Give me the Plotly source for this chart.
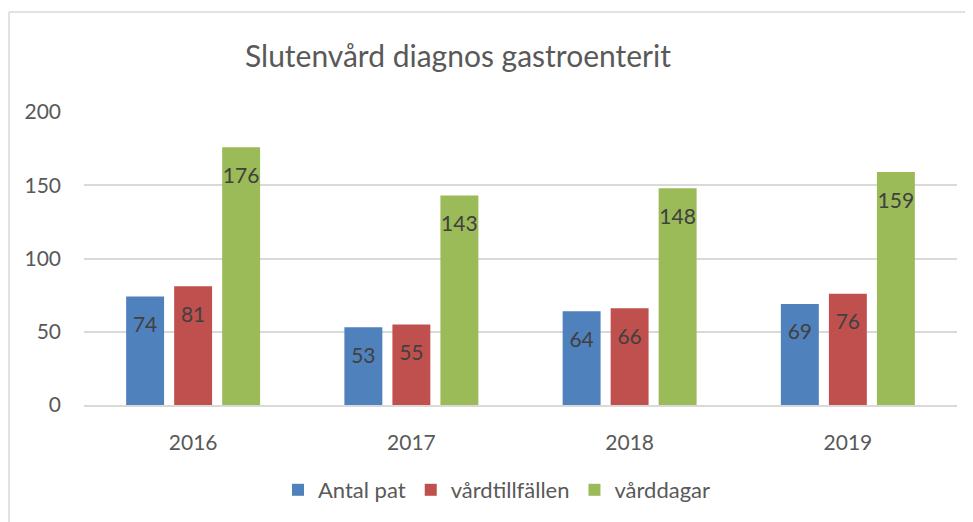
import plotly.graph_objects as go

years = ["2016", "2017", "2018", "2019"]
antal_pat = [74, 53, 64, 69]
vardtillfallen = [81, 55, 66, 76]
varddagar = [176, 143, 148, 159]
series_names = ["Antal pat", "vårdtillfällen", "vårddagar"]
series_values = [antal_pat, vardtillfallen, varddagar]
colors = ["#4f81bd", "#c0504d", "#9bbb59"]
y_ticks = [0, 50, 100, 150, 200]

FONT = "Lato, 'Open Sans', sans-serif"
OFF = 8  # page body margin
W, H = 973 - OFF, 522 - OFF
L, T = 84 - OFF, 112 - OFF
R = W - (957 - OFF)
B = H - (405 - OFF)

fig = go.Figure()
for i, (name, vals, col) in enumerate(zip(series_names, series_values, colors)):
    fig.add_trace(go.Bar(
        x=years, y=vals, name=name, marker=dict(color=col, line=dict(width=0)),
        offsetgroup=str(i), showlegend=True,
        hoverinfo="skip",
    ))
for i, (name, vals, col) in enumerate(zip(series_names, series_values, colors)):
    fig.add_trace(go.Scatter(
        x=years, y=vals, mode="markers+text", text=[str(v) for v in vals],
        textposition="bottom center", offsetgroup=str(i),
        marker=dict(size=30, opacity=0, color=col),
        textfont=dict(family=FONT, size=21, color="#404040"),
        showlegend=False, hoverinfo="skip",
    ))

pw = W - L - R
ph = H - T - B
def px_x(x):
    return (x - OFF - L) / pw
def px_y(y):
    return (T + ph - (y - OFF)) / ph

bx = px_x(9)
by = px_y(12)
fig.add_shape(type="line", xref="paper", yref="paper", x0=bx, x1=bx, y0=by, y1=px_y(540),
              line=dict(color="#d9d9d9", width=1.5))
fig.add_shape(type="line", xref="paper", yref="paper", x0=bx, x1=px_x(990), y0=by, y1=by,
              line=dict(color="#d9d9d9", width=1.5))

fig.update_layout(
    width=W, height=H,
    margin=dict(l=L, r=R, t=T, b=B, autoexpand=False),
    paper_bgcolor="white", plot_bgcolor="white",
    barmode="group", bargap=0.34, bargroupgap=0.21,
    scattermode="group", scattergap=0.34,
    title=dict(text="Slutenvård diagnos gastroenterit", x=px_x(458), xref="paper", xanchor="center",
               y=1 - (56 - OFF) / H, yref="container", yanchor="middle",
               font=dict(family=FONT, size=30, color="#595959")),
    legend=dict(orientation="h", x=px_x(497), xanchor="center", y=px_y(490), yanchor="middle",
                font=dict(family=FONT, size=22, color="#595959"), itemclick=False,
                traceorder="normal"),
    font=dict(family=FONT, color="#595959"),
    showlegend=True,
)
fig.update_xaxes(type="category", showgrid=False, showline=True, linecolor="#d9d9d9", linewidth=2,
                 ticks="", tickfont=dict(family=FONT, size=21, color="#595959"), ticklabelstandoff=18)
fig.update_yaxes(range=[0, 200], tickvals=y_ticks, showgrid=True, gridcolor="#d9d9d9", gridwidth=1.5,
                 zeroline=False, showline=False, ticks="",
                 tickfont=dict(family=FONT, size=21, color="#595959"), ticklabelstandoff=22)

fig.write_html("out.html")
